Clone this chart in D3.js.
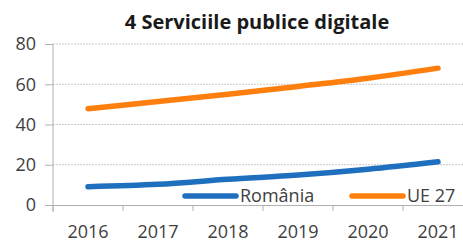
<!DOCTYPE html>
<html>
<head>
<meta charset="utf-8">
<script src="https://cdn.jsdelivr.net/npm/d3@7"></script>
<style>
body { margin:0; background:#fff; }
text { font-family: "Open Sans", "Liberation Sans", sans-serif; }
</style>
</head>
<body>
<script>
var years = ["2016","2017","2018","2019","2020","2021"];
var romania = [9.1, 10.3, 12.8, 14.9, 17.8, 21.5];
var ue27 = [47.8, 51.4, 55, 58.9, 63, 68];
var yTicks = [0, 20, 40, 60, 80];

var svg = d3.select("body").append("svg").attr("width", 463).attr("height", 242);

var x = d3.scaleBand().domain(years).range([53, 473]);
var y = d3.scaleLinear().domain([0, 80]).range([205, 44]);

svg.append("text")
  .attr("x", 257).attr("y", 29)
  .attr("text-anchor", "middle")
  .attr("font-weight", "bold").attr("font-size", 20).attr("fill", "#1a1a1a")
  .text("4 Serviciile publice digitale");

// grid
svg.selectAll("line.grid")
  .data(yTicks.slice(1))
  .enter().append("line")
  .attr("class", "grid")
  .attr("x1", 53).attr("x2", 463)
  .attr("y1", function(d) { return y(d); })
  .attr("y2", function(d) { return y(d); })
  .attr("stroke", "#c8c8c8").attr("stroke-dasharray", "2,1");

var yAxis = svg.append("g").attr("transform", "translate(53,0)")
  .call(d3.axisLeft(y).tickValues(yTicks).tickSize(8).tickPadding(9));
yAxis.select(".domain").attr("d", "M0,44V212").attr("stroke", "#b0b0b0");
yAxis.selectAll(".tick line").attr("stroke", "#b0b0b0");
yAxis.selectAll("text").attr("font-size", 18).attr("fill", "#404040")
  .style("font-family", "'Open Sans', sans-serif");

var xAxis = svg.append("g").attr("transform", "translate(0,205)")
  .call(d3.axisBottom(x).tickSize(0).tickPadding(20));
xAxis.select(".domain").attr("stroke", "#b0b0b0");
xAxis.selectAll("text").attr("font-size", 18).attr("fill", "#404040")
  .style("font-family", "'Open Sans', sans-serif");

// band ticks
svg.selectAll("line.xt")
  .data(years)
  .enter().append("line")
  .attr("class", "xt")
  .attr("x1", function(d) { return x(d); })
  .attr("x2", function(d) { return x(d); })
  .attr("y1", 205).attr("y2", 211)
  .attr("stroke", "#b0b0b0");

var line = d3.line()
  .x(function(d, i) { return x(years[i]) + x.bandwidth() / 2; })
  .y(function(d) { return y(d); })
  .curve(d3.curveCatmullRom);

svg.append("path").attr("d", line(ue27))
  .attr("fill", "none").attr("stroke", "#ff7f0e").attr("stroke-width", 5.5)
  .attr("stroke-linecap", "round");
svg.append("path").attr("d", line(romania))
  .attr("fill", "none").attr("stroke", "#1f6fbf").attr("stroke-width", 5.5)
  .attr("stroke-linecap", "round");

// legend
var legend = [{name:"România", color:"#1f6fbf", x:185}, {name:"UE 27", color:"#ff7f0e", x:352}];
var lg = svg.selectAll("g.lg").data(legend).enter().append("g").attr("class", "lg");
lg.append("line")
  .attr("x1", function(d) { return d.x; })
  .attr("x2", function(d) { return d.x + 51; })
  .attr("y1", 196).attr("y2", 196)
  .attr("stroke", function(d) { return d.color; })
  .attr("stroke-width", 5.5).attr("stroke-linecap", "round");
lg.append("text")
  .attr("x", function(d) { return d.x + 55; })
  .attr("y", 202)
  .attr("font-size", 18).attr("fill", "#404040")
  .text(function(d) { return d.name; });
</script>
</body>
</html>
